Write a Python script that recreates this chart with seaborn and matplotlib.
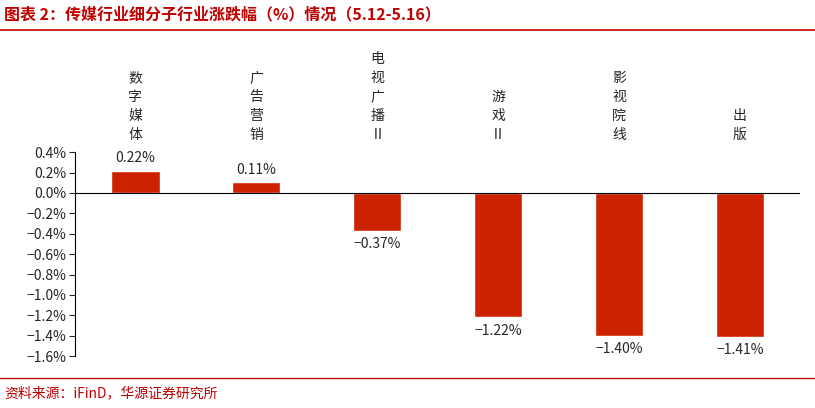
import matplotlib
matplotlib.use("Agg")
import matplotlib.pyplot as plt
import seaborn as sns
import pandas as pd
from matplotlib.transforms import blended_transform_factory

categories = ["数字媒体", "广告营销", "电视广播Ⅱ", "游戏Ⅱ", "影视院线", "出版"]
values = [0.22, 0.11, -0.37, -1.22, -1.40, -1.41]
yticks = [0.4, 0.2, 0.0, -0.2, -0.4, -0.6, -0.8, -1.0, -1.2, -1.4, -1.6]

sns.set_style("white")
plt.rcParams['font.family'] = ['Noto Sans CJK SC', 'DejaVu Sans']
plt.rcParams['axes.unicode_minus'] = True

fig = plt.figure(figsize=(8.15, 4.08), dpi=100)
ax = fig.add_axes([0.092, 0.127, 0.89, 0.5])
df = pd.DataFrame({"cat": categories, "val": values})
sns.barplot(data=df, x="cat", y="val", color="#CC2200", saturation=1, width=0.4, ax=ax)
ax.set_xlim(-0.5, 5.5)
ax.set_ylim(-1.6, 0.4)
ax.set_yticks(yticks)
ax.set_yticklabels([f"{t:.1f}%".replace("-", "−") for t in yticks], fontsize=10)
ax.set_xticks([])
ax.set_xlabel(""); ax.set_ylabel("")
for s in ["top", "right", "bottom"]:
    ax.spines[s].set_visible(False)
ax.spines["left"].set_color("black")
ax.spines["left"].set_linewidth(0.8)
ax.tick_params(axis="y", direction="out", length=4, width=0.8, left=True, pad=2)
ax.axhline(0, color="black", lw=0.8)

for i, v in enumerate(values):
    txt = f"{v:.2f}%".replace("-", "−")
    if v >= 0:
        ax.text(i, v + 0.05, txt, ha="center", va="bottom", fontsize=10)
    else:
        ax.text(i, v - 0.06, txt, ha="center", va="top", fontsize=10)

tr = blended_transform_factory(ax.transData, fig.transFigure)
for i, c in enumerate(categories):
    fig.text(i, 1 - 142 / 408, "\n".join(c), transform=tr, ha="center", va="bottom",
             fontsize=10, linespacing=1.45)

fig.text(0.005, 1 - 14 / 408, "图表 2：传媒行业细分子行业涨跌幅（%）情况（5.12-5.16）",
         color="#C00000", fontsize=11.5, fontweight="bold", va="center", ha="left")
fig.add_artist(plt.Line2D([0, 1], [1 - 30 / 408] * 2, color="#C00000", lw=1.2))
fig.add_artist(plt.Line2D([0, 1], [1 - 378 / 408] * 2, color="#C00000", lw=1.0))
fig.text(0.005, 1 - 393 / 408, "资料来源：iFinD，华源证券研究所", color="#C00000",
         fontsize=10, va="center", ha="left")

fig.savefig("out.png", dpi=100)
